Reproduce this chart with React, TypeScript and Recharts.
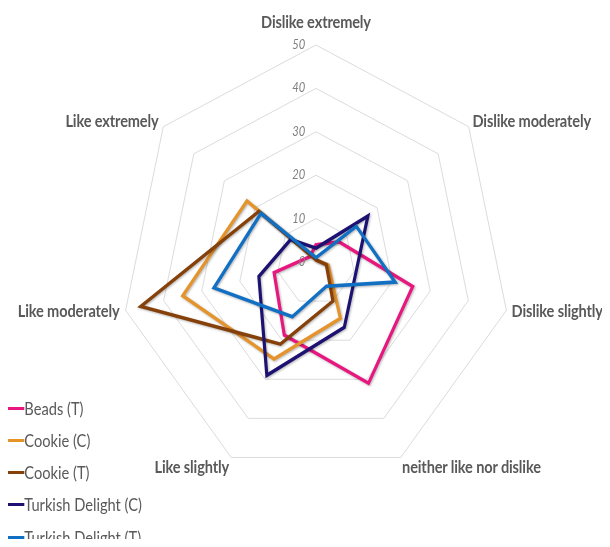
import React from 'react';
import {
  RadarChart,
  Radar,
  PolarGrid,
  PolarAngleAxis,
  PolarRadiusAxis,
  Legend,
} from 'recharts';

// Hedonic rating categories, clockwise from the top
const categories = [
  'Dislike extremely',
  'Dislike moderately',
  'Dislike slightly',
  'neither like nor dislike',
  'Like slightly',
  'Like moderately',
  'Like extremely',
];

// Share of responses (%) per category
const beadsT = [4, 7.5, 25.4, 31, 18.7, 11, 2];
const cookieC = [0.5, 0.5, 3.2, 14.4, 24.8, 35, 22.6];
const cookieT = [0.5, 0.5, 2.7, 10, 21, 46, 18.7];
const turkishDelightC = [3.2, 17, 10.5, 16.7, 29, 15, 8.3];
const turkishDelightT = [1, 13.2, 20.8, 6.2, 14, 26.8, 18];

const radiusTicks = [0, 10, 20, 30, 40, 50];

const seriesNames = [
  'Beads (T)',
  'Cookie (C)',
  'Cookie (T)',
  'Turkish Delight (C)',
  'Turkish Delight (T)',
];
const seriesKeys = ['beadsT', 'cookieC', 'cookieT', 'turkishDelightC', 'turkishDelightT'];
const seriesColors = ['#e8177f', '#e5932b', '#86400a', '#1d1271', '#1170c4'];
const seriesValues = [beadsT, cookieC, cookieT, turkishDelightC, turkishDelightT];

const rows = categories.map((category, i) => {
  const row: Record<string, string | number> = { category };
  seriesKeys.forEach((k, s) => {
    row[k] = seriesValues[s][i];
  });
  return row;
});

const SCALE_X = 0.9;
const WIDTH = 610 / SCALE_X;
const HEIGHT = 547;
const CX = 316 / SCALE_X;
const CY = 262;
const RADIUS = 217;

const FONT = 'Lato, "Open Sans", sans-serif';

function AngleTick(props: any) {
  const { x, y, payload, textAnchor } = props;
  let dy = 5;
  if (textAnchor === 'middle' && y < CY) dy = -9;
  else if (y > CY + 100) dy = 8;
  const dx = textAnchor === 'start' ? -2 : textAnchor === 'end' ? 1 : 0;
  return (
    <text
      x={x + dx}
      y={y}
      dy={dy}
      textAnchor={textAnchor}
      fontFamily={FONT}
      fontWeight={700}
      fontSize={16.2}
      letterSpacing={-0.15}
      fill="#595959"
    >
      {payload.value}
    </text>
  );
}

function RadiusTick(props: any) {
  const { x, y, payload } = props;
  return (
    <text
      x={x - 12}
      y={y}
      dy={4}
      textAnchor="end"
      fontFamily={FONT}
      fontStyle="italic"
      fontSize={12.5}
      fill="#808080"
    >
      {payload.value}
    </text>
  );
}

function LegendContent(props: any) {
  const { payload = [] } = props;
  return (
    <div>
      {payload.map((item: any) => {
        const idx = seriesKeys.indexOf(item.dataKey);
        return (
          <div
            key={item.dataKey}
            style={{ display: 'flex', alignItems: 'center', height: 32.25 }}
          >
            <span
              style={{
                display: 'inline-block',
                width: 23,
                height: 3,
                background: seriesColors[idx],
              }}
            />
            <span
              style={{
                fontFamily: FONT,
                fontSize: 16.3,
                color: '#595959',
                whiteSpace: 'nowrap',
              }}
            >
              {seriesNames[idx]}
            </span>
          </div>
        );
      })}
    </div>
  );
}

export default function App() {
  return (
    <div
      style={{
        margin: -8,
        width: 610,
        height: 547,
        overflow: 'hidden',
        position: 'relative',
        background: '#ffffff',
      }}
    >
      <style>{`html, body { overflow: hidden; }
.recharts-radar-polygon { filter: drop-shadow(1px 1px 1px rgba(0,0,0,0.3)); }`}</style>
      <div
        style={{
          transform: `scaleX(${SCALE_X})`,
          transformOrigin: '0 0',
          width: WIDTH,
          height: HEIGHT,
        }}
      >
        <RadarChart
          width={WIDTH}
          height={HEIGHT}
          cx={CX}
          cy={CY}
          outerRadius={RADIUS}
          data={rows}
          margin={{ top: 0, right: 0, bottom: 0, left: 0 }}
        >
          <PolarGrid gridType="polygon" radialLines={false} stroke="#d9d9d9" />
          <PolarAngleAxis dataKey="category" tick={AngleTick} tickLine={false} axisLine={false} />
          <PolarRadiusAxis
            angle={90}
            domain={[0, 50]}
            ticks={radiusTicks}
            tick={RadiusTick}
            axisLine={false}
          />
          {seriesKeys.map((k, s) => (
            <Radar
              key={k}
              name={seriesNames[s]}
              dataKey={k}
              stroke={seriesColors[s]}
              strokeWidth={3.5}
              fill="none"
              fillOpacity={0}
              dot={false}
              isAnimationActive={false}
            />
          ))}
          <Legend
            layout="vertical"
            align="center"
            verticalAlign="middle"
            content={LegendContent}
            wrapperStyle={{ left: 4, top: 392, width: 240 }}
          />
        </RadarChart>
      </div>
    </div>
  );
}
